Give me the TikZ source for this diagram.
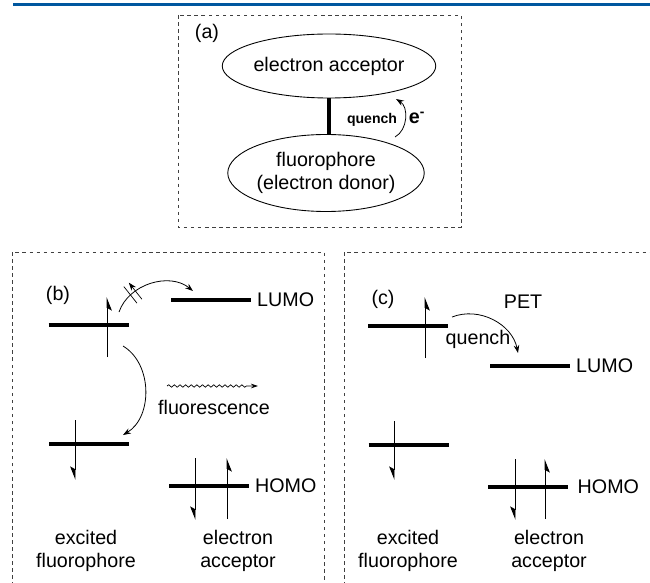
\documentclass[tikz,border=0pt]{standalone}
\usepackage{fontspec}
\setmainfont{Liberation Sans}
\usetikzlibrary{arrows.meta}
\usetikzlibrary{shapes.geometric}
\usetikzlibrary{decorations.pathmorphing}
\usetikzlibrary{decorations.markings}
\usetikzlibrary{positioning}
\definecolor{rulecolor}{RGB}{0,87,159}
\tikzstyle{panel} = [draw=black!75, line width=0.5pt, dash pattern=on 2pt off 2pt]
\tikzstyle{spin} = [line width=0.55pt, -{Stealth[right, length=7pt, width=5.5pt, inset=1.5pt]}]
\tikzstyle{hop} = [line width=0.45pt, -{Stealth[length=4.5pt, width=3.2pt]}]

\begin{document}
\begin{tikzpicture}[font=\fontsize{11.2}{13.4}\selectfont,
		orbital/.style = {ellipse, draw, line width=0.5pt, inner sep=0pt, align=center},
		level/.style = {minimum width=1.6cm, minimum height=0pt, inner sep=0pt, outer sep=0pt,
			append after command={(\tikzlastnode.west) edge[line width=2pt] (\tikzlastnode.east)}},
		caption/.style = {align=center},
		blocked/.style = {postaction={decorate, decoration={markings,
			mark=at position 0.27 with {\draw[line width=0.4pt] (-1.8pt,-6pt) -- (-1.8pt,6pt)
				(1.8pt,-6pt) -- (1.8pt,6pt);}}}},
		wave/.style = {line width=0.4pt, decorate,
			decoration={snake, amplitude=0.7pt, segment length=3.2pt, post length=5pt},
			-{Stealth[length=4pt, width=2.6pt]}}]

		\useasboundingbox (0,0) rectangle (13,-11.64);
		\clip (0,0) rectangle (13,-11.64);

		% Rule on top
		\draw[rulecolor, line width=1.8pt] (0.26,-0.09) -- (13,-0.09);

		% Frames
		\draw[panel] (3.56,-0.30) rectangle (9.22,-4.54);
		\draw[panel] (0.24,-12) |- (6.48,-5.04) -- (6.48,-12);
		\draw[panel] (6.88,-12) |- (13.5,-5.04);

		% (a) acceptor linked to fluorophore
		\node (alabel) at (4.14,-0.66) {(a)};
		\node[orbital, minimum width=3.5cm, minimum height=1.28cm] (acc) at (6.58,-1.32) {electron acceptor};
		\node[orbital, minimum width=3.76cm, minimum height=1.54cm] (don) at (6.52,-3.46) {fluorophore\\(electron donor)};
		\draw[line width=2pt] (acc.south) -- (acc.south |- don.north);
		\node[font=\bfseries\fontsize{8}{9}\selectfont] (aq) at (7.44,-2.40) {quench};
		\coordinate (ae1) at (7.90,-2.74);
		\coordinate (ae2) at (7.92,-1.98);
		\draw[hop] (ae1) to[bend right=60] (ae2);
		\node[font=\bfseries\fontsize{11.2}{13.4}\selectfont] (ae) at (8.34,-2.36) {e\textsuperscript{-}};

		% (b) levels
		\node (blabel) at (1.16,-5.90) {(b)};
		\node[level] (bexc) at (1.77,-6.50) {};
		\node[level] (bgnd) at (1.78,-8.88) {};
		\node[level, label={[label distance=0pt]right:LUMO}] (blumo) at (4.22,-6.00) {};
		\node[level, label={[label distance=0pt]right:HOMO}] (bhomo) at (4.18,-9.72) {};

		% (b) electrons
		\draw[spin] ([xshift=3.7mm, yshift=-6.4mm]bexc.center) -- ++(0,1.2);
		\draw[spin] ([xshift=-2.8mm, yshift=4.8mm]bgnd.center) -- ++(0,-1.2);
		\draw[spin] ([xshift=-2.8mm, yshift=5.6mm]bhomo.center) -- ++(0,-1.24);
		\draw[spin] ([xshift=3.6mm, yshift=-6.6mm]bhomo.center) -- ++(0,1.22);

		% (b) blocked transfer and fluorescence
		\coordinate (bq1) at (2.38,-6.24);
		\coordinate (bq2) at (3.86,-5.82);
		\draw[hop, blocked] (bq1) to[bend left=55] (bq2);
		\coordinate (bf1) at (2.46,-6.92);
		\coordinate (bf2) at (2.46,-8.70);
		\draw[hop] (bf1) to[bend left=59] (bf2);
		\coordinate (bw1) at (3.34,-7.72);
		\coordinate (bw2) at (5.16,-7.72);
		\draw[wave] (bw1) -- (bw2);
		\node (bfluo) at (4.28,-8.14) {fluorescence};
		\node[caption] (bcap1) at (1.72,-11.02) {excited\\fluorophore};
		\node[caption] (bcap2) at (4.76,-11.02) {electron\\acceptor};

		% (c) levels
		\node (clabel) at (7.66,-5.98) {(c)};
		\node[level] (cexc) at (8.16,-6.52) {};
		\node[level] (cgnd) at (8.17,-8.90) {};
		\node[level, label={[label distance=0pt]right:LUMO}] (clumo) at (10.60,-7.32) {};
		\node[level, label={[label distance=2pt]right:HOMO}] (chomo) at (10.56,-9.74) {};

		% (c) electrons
		\draw[spin] ([xshift=3.4mm, yshift=-6.4mm]cexc.center) -- ++(0,1.22);
		\draw[spin] ([xshift=-2.9mm, yshift=4.8mm]cgnd.center) -- ++(0,-1.18);
		\draw[spin] ([xshift=-2.6mm, yshift=5.6mm]chomo.center) -- ++(0,-1.22);
		\draw[spin] ([xshift=3.4mm, yshift=-6.4mm]chomo.center) -- ++(0,1.2);

		% (c) electron transfer
		\node (cpet) at (10.46,-6.04) {PET};
		\node (cq) at (9.56,-6.78) {quench};
		\coordinate (cq1) at (9.04,-6.34);
		\coordinate (cq2) at (10.36,-7.06);
		\draw[hop] (cq1) to[bend left=50] (cq2);
		\node[caption] (ccap1) at (8.16,-11.02) {excited\\fluorophore};
		\node[caption] (ccap2) at (10.98,-11.02) {electron\\acceptor};
\end{tikzpicture}
\end{document}
